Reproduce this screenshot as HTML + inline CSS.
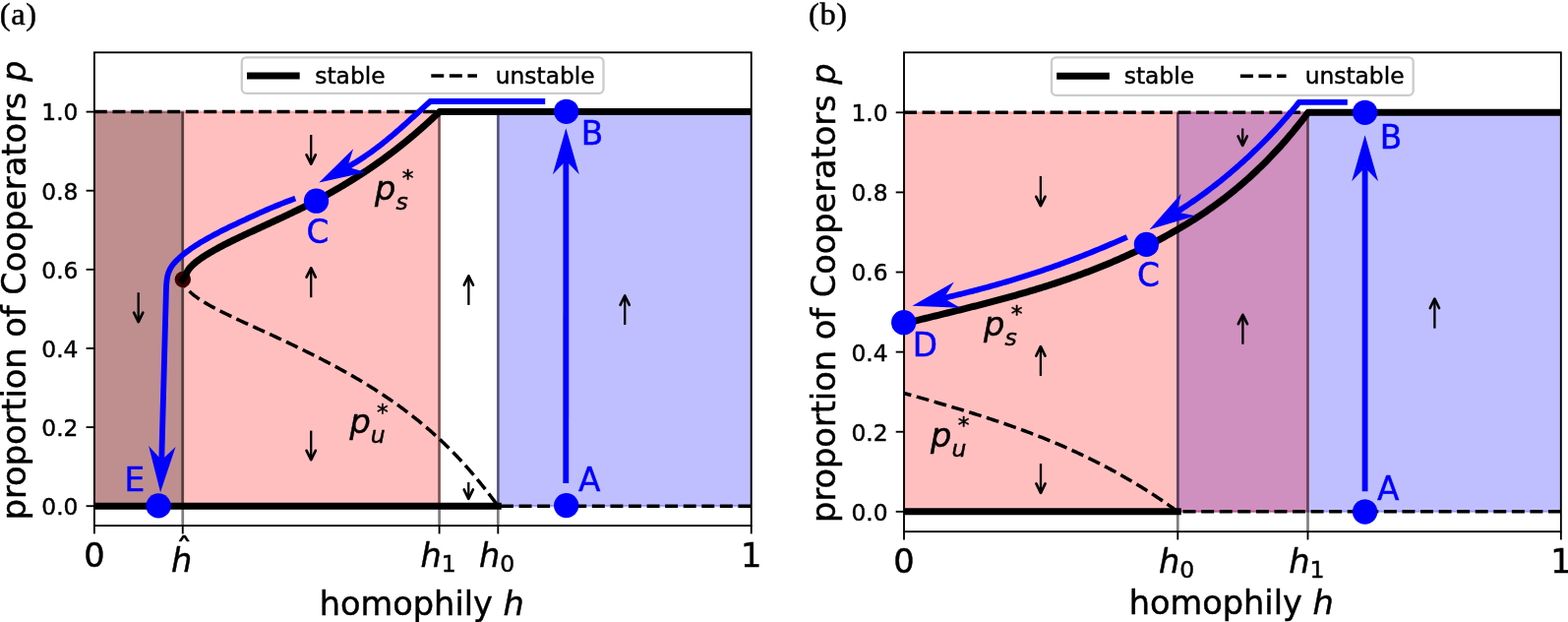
<!DOCTYPE html>
<html><head><meta charset="utf-8"><title>Figure</title>
<style>html,body{margin:0;padding:0;background:#fff;overflow:hidden}svg{display:block}</style>
</head><body>
<svg width="1594" height="632" viewBox="0 0 1594 632" role="img" aria-label="Bifurcation diagrams of cooperation versus homophily">
<rect width="1594" height="632" fill="#fff"/>
<clipPath id="clipa"><rect x="95.9" y="53.3" width="667.85" height="480.8"/></clipPath>
<g clip-path="url(#clipa)">
<rect x="95.9" y="113.6" width="350.7" height="400.6" fill="#f00" fill-opacity="0.25" stroke="#f00" stroke-opacity="0.25" stroke-width="2.33"/>
<rect x="506.3" y="113.6" width="257.45" height="400.6" fill="#00f" fill-opacity="0.25" stroke="#00f" stroke-opacity="0.25" stroke-width="2.33"/>
<rect x="95.9" y="113.6" width="89.85" height="400.6" fill="#000" fill-opacity="0.25" stroke="#000" stroke-opacity="0.25" stroke-width="2.33"/>
<line x1="185.75" y1="113.6" x2="185.75" y2="534.1" stroke="#000" stroke-opacity="0.5" stroke-width="2.7"/>
<line x1="446.6" y1="113.6" x2="446.6" y2="534.1" stroke="#000" stroke-opacity="0.5" stroke-width="2.7"/>
<line x1="506.3" y1="113.6" x2="506.3" y2="534.1" stroke="#000" stroke-opacity="0.5" stroke-width="2.7"/>
<path d="M95.9 113.6 L446.6 113.6" stroke="#000" stroke-width="3.5" stroke-dasharray="12.96 5.61" stroke-dashoffset="0" fill="none"/>
<path d="M185.76 284.1 L185.91 285.26 L186.17 286.41 L186.55 287.57 L187.04 288.73 L187.64 289.88 L188.35 291.04 L189.16 292.19 L190.08 293.35 L191.09 294.51 L192.2 295.66 L193.4 296.82 L194.69 297.98 L196.06 299.13 L197.52 300.29 L199.05 301.44 L200.66 302.6 L202.35 303.76 L204.1 304.91 L205.92 306.07 L207.81 307.23 L209.75 308.38 L211.76 309.54 L213.81 310.69 L215.92 311.85 L218.08 313.01 L220.28 314.16 L222.52 315.32 L224.8 316.48 L227.11 317.63 L229.46 318.79 L231.84 319.94 L234.25 321.1 L236.67 322.26 L239.12 323.41 L241.59 324.57 L244.07 325.73 L246.57 326.88 L249.08 328.04 L251.6 329.19 L254.12 330.35 L256.66 331.51 L259.2 332.66 L261.74 333.82 L264.28 334.98 L266.82 336.13 L269.35 337.29 L271.88 338.45 L274.4 339.6 L276.91 340.76 L279.41 341.91 L281.9 343.07 L284.37 344.23 L286.84 345.38 L289.3 346.54 L291.75 347.7 L294.18 348.85 L296.61 350.01 L299.02 351.16 L301.42 352.32 L303.8 353.48 L306.18 354.63 L308.54 355.79 L310.89 356.95 L313.23 358.1 L315.55 359.26 L317.86 360.41 L320.16 361.57 L322.44 362.73 L324.71 363.88 L326.97 365.04 L329.21 366.2 L331.43 367.35 L333.64 368.51 L335.84 369.66 L338.02 370.82 L340.18 371.98 L342.33 373.13 L344.46 374.29 L346.58 375.45 L348.68 376.6 L350.76 377.76 L352.83 378.92 L354.88 380.07 L356.91 381.23 L358.93 382.38 L360.93 383.54 L362.91 384.7 L364.87 385.85 L366.82 387.01 L368.75 388.17 L370.66 389.32 L372.56 390.48 L374.44 391.63 L376.3 392.79 L378.15 393.95 L379.98 395.1 L381.8 396.26 L383.6 397.42 L385.38 398.57 L387.15 399.73 L388.9 400.88 L390.64 402.04 L392.36 403.2 L394.07 404.35 L395.76 405.51 L397.44 406.67 L399.1 407.82 L400.75 408.98 L402.39 410.13 L404.01 411.29 L405.61 412.45 L407.2 413.6 L408.78 414.76 L410.34 415.92 L411.89 417.07 L413.43 418.23 L414.95 419.38 L416.46 420.54 L417.96 421.7 L419.45 422.85 L420.92 424.01 L422.37 425.17 L423.82 426.32 L425.25 427.48 L426.67 428.64 L428.08 429.79 L429.48 430.95 L430.86 432.1 L432.23 433.26 L433.6 434.42 L434.94 435.57 L436.28 436.73 L437.61 437.89 L438.92 439.04 L440.23 440.2 L441.52 441.35 L442.8 442.51 L444.07 443.67 L445.33 444.82 L446.58 445.98 L447.82 447.14 L449.05 448.29 L450.27 449.45 L451.48 450.6 L452.68 451.76 L453.87 452.92 L455.05 454.07 L456.22 455.23 L457.38 456.39 L458.53 457.54 L459.67 458.7 L460.81 459.85 L461.93 461.01 L463.05 462.17 L464.16 463.32 L465.26 464.48 L466.35 465.64 L467.43 466.79 L468.51 467.95 L469.57 469.11 L470.63 470.26 L471.68 471.42 L472.73 472.57 L473.76 473.73 L474.79 474.89 L475.81 476.04 L476.83 477.2 L477.84 478.36 L478.84 479.51 L479.83 480.67 L480.82 481.82 L481.8 482.98 L482.78 484.14 L483.74 485.29 L484.71 486.45 L485.66 487.61 L486.62 488.76 L487.56 489.92 L488.5 491.07 L489.43 492.23 L490.36 493.39 L491.29 494.54 L492.21 495.7 L493.12 496.86 L494.03 498.01 L494.94 499.17 L495.84 500.32 L496.73 501.48 L497.62 502.64 L498.51 503.79 L499.39 504.95 L500.27 506.11 L501.15 507.26 L502.02 508.42 L502.89 509.57 L503.75 510.73 L504.62 511.89 L505.47 513.04 L506.33 514.2 L763.75 514.2" stroke="#000" stroke-width="3.5" stroke-dasharray="12.96 5.61" stroke-dashoffset="4.67" fill="none" stroke-linejoin="miter"/>
<circle cx="185.8" cy="284.05" r="8.2" fill="#3c0000"/>
<path d="M95.9 514.2 L506.3 514.2" stroke="#000" stroke-width="7" stroke-linecap="square" fill="none"/>
<path d="M763.75 113.6 L446.81 113.6 L445.63 114.72 L444.44 115.83 L443.25 116.95 L442.06 118.07 L440.86 119.18 L439.65 120.3 L438.44 121.42 L437.22 122.53 L436 123.65 L434.77 124.77 L433.53 125.88 L432.28 127 L431.03 128.12 L429.78 129.23 L428.51 130.35 L427.24 131.47 L425.96 132.59 L424.67 133.7 L423.38 134.82 L422.07 135.94 L420.76 137.05 L419.44 138.17 L418.12 139.29 L416.78 140.4 L415.43 141.52 L414.08 142.64 L412.72 143.75 L411.34 144.87 L409.96 145.99 L408.57 147.1 L407.17 148.22 L405.76 149.34 L404.33 150.45 L402.9 151.57 L401.46 152.69 L400.01 153.8 L398.54 154.92 L397.07 156.04 L395.58 157.15 L394.08 158.27 L392.58 159.39 L391.06 160.5 L389.52 161.62 L387.98 162.74 L386.42 163.86 L384.85 164.97 L383.27 166.09 L381.68 167.21 L380.07 168.32 L378.45 169.44 L376.82 170.56 L375.18 171.67 L373.52 172.79 L371.84 173.91 L370.16 175.02 L368.46 176.14 L366.74 177.26 L365.01 178.37 L363.27 179.49 L361.51 180.61 L359.74 181.72 L357.95 182.84 L356.15 183.96 L354.33 185.07 L352.5 186.19 L350.65 187.31 L348.79 188.42 L346.91 189.54 L345.01 190.66 L343.1 191.77 L341.17 192.89 L339.22 194.01 L337.26 195.12 L335.28 196.24 L333.28 197.36 L331.27 198.48 L329.24 199.59 L327.19 200.71 L325.12 201.83 L323.04 202.94 L320.93 204.06 L318.81 205.18 L316.67 206.29 L314.51 207.41 L312.34 208.53 L310.14 209.64 L307.93 210.76 L305.69 211.88 L303.44 212.99 L301.17 214.11 L298.88 215.23 L296.56 216.34 L294.23 217.46 L291.88 218.58 L289.51 219.69 L287.13 220.81 L284.74 221.93 L282.33 223.04 L279.92 224.16 L277.5 225.28 L275.07 226.39 L272.64 227.51 L270.21 228.63 L267.77 229.74 L265.34 230.86 L262.91 231.98 L260.48 233.1 L258.06 234.21 L255.65 235.33 L253.25 236.45 L250.86 237.56 L248.48 238.68 L246.12 239.8 L243.78 240.91 L241.45 242.03 L239.15 243.15 L236.87 244.26 L234.61 245.38 L232.38 246.5 L230.17 247.61 L227.99 248.73 L225.85 249.85 L223.74 250.96 L221.66 252.08 L219.62 253.2 L217.61 254.31 L215.65 255.43 L213.73 256.55 L211.85 257.66 L210.02 258.78 L208.23 259.9 L206.51 261.01 L204.84 262.13 L203.24 263.25 L201.69 264.37 L200.22 265.48 L198.82 266.6 L197.49 267.72 L196.25 268.83 L195.08 269.95 L194.01 271.07 L193.02 272.18 L192.12 273.3 L191.32 274.42 L190.62 275.53 L190.02 276.65 L189.53 277.77 L189.15 278.88 L188.89 280 L185.8 284.1" stroke="#000" stroke-width="7" stroke-linecap="square" stroke-linejoin="round" fill="none"/>
<path d="M554.2 103 L437.4 103 L436.05 104.22 L434.7 105.45 L433.35 106.68 L432 107.9 L430.65 109.13 L429.31 110.36 L427.96 111.6 L426.61 112.83 L425.26 114.06 L423.91 115.29 L422.57 116.52 L421.22 117.75 L419.87 118.98 L418.51 120.21 L417.16 121.43 L415.81 122.66 L414.45 123.88 L413.09 125.1 L411.73 126.31 L410.37 127.53 L409 128.74 L407.63 129.95 L406.26 131.15 L404.88 132.35 L403.51 133.55 L402.12 134.74 L400.74 135.92 L399.35 137.1 L397.96 138.28 L396.56 139.45 L395.15 140.61 L393.75 141.77 L392.34 142.92 L390.92 144.07 L389.5 145.21 L388.07 146.34 L386.63 147.46 L385.19 148.58 L383.75 149.68 L382.3 150.78 L380.84 151.87 L379.37 152.96 L377.9 154.03 L376.42 155.09 L374.93 156.15 L373.44 157.19 L371.94 158.22 L370.43 159.25 L368.91 160.26 L367.39 161.26 L365.85 162.25 L364.31 163.23 L362.76 164.2 L361.2 165.16 L359.63 166.1 L358.05 167.03 L356.46 167.95 L354.86 168.85 L353.25 169.74" stroke="#0000ff" stroke-width="5.83" fill="none" stroke-linejoin="miter" stroke-linecap="butt"/>
<path d="M300.2 201.6 L298.08 202.39 L295.97 203.19 L293.88 203.98 L291.82 204.78 L289.77 205.57 L287.73 206.37 L285.72 207.16 L283.73 207.95 L281.76 208.75 L279.81 209.54 L277.88 210.34 L275.97 211.13 L274.08 211.93 L272.21 212.72 L270.37 213.51 L268.55 214.31 L266.76 215.1 L264.98 215.9 L263.22 216.69 L261.47 217.48 L259.74 218.28 L258.01 219.07 L256.3 219.87 L254.59 220.66 L252.88 221.46 L251.18 222.25 L249.48 223.04 L247.77 223.84 L246.06 224.63 L244.36 225.43 L242.66 226.22 L240.96 227.02 L239.27 227.81 L237.59 228.6 L235.91 229.4 L234.25 230.19 L232.6 230.99 L230.97 231.78 L229.35 232.58 L227.75 233.37 L226.17 234.16 L224.61 234.96 L223.07 235.75 L221.56 236.55 L220.06 237.34 L218.56 238.14 L217.08 238.93 L215.61 239.72 L214.16 240.52 L212.72 241.31 L211.29 242.11 L209.88 242.9 L208.49 243.69 L207.11 244.49 L205.76 245.28 L204.42 246.08 L203.1 246.87 L201.81 247.67 L200.54 248.46 L199.29 249.25 L198.06 250.05 L196.86 250.84 L195.67 251.64 L194.51 252.43 L193.38 253.23 L192.27 254.02 L191.18 254.81 L190.11 255.61 L189.08 256.4 L188.06 257.2 L187.06 257.99 L186.09 258.79 L185.14 259.58 L184.21 260.37 L183.31 261.17 L182.44 261.96 L181.58 262.76 L180.73 263.55 L179.9 264.35 L179.09 265.14 L178.31 265.93 L177.57 266.73 L176.89 267.52 L176.25 268.32 L175.65 269.11 L175.07 269.91 L174.52 270.7 L173.99 271.49 L173.51 272.29 L173.06 273.08 L172.66 273.88 L172.29 274.67 L171.94 275.46 L171.6 276.26 L171.29 277.05 L171.01 277.85 L170.76 278.64 L170.53 279.44 L170.35 280.23 L170.19 281.02 L170.04 281.82 L169.9 282.61 L169.78 283.41 L169.67 284.2 L169.56 285 L169.47 285.79 L169.39 286.58 L169.31 287.38 L169.23 288.17 L169.17 288.97 L169.11 289.76 L169.05 290.56 L169.01 291.35 L168.98 292.14 L168.95 292.94 L168.93 293.73 L168.9 294.53 L168.88 295.32 L168.86 296.12 L168.85 296.91 L168.83 297.7 L168.81 298.5 L168.79 299.29 L168.77 300.09 L168.75 300.88 L168.73 301.67 L168.71 302.47 L168.69 303.26 L168.67 304.06 L168.64 304.85 L168.62 305.65 L168.6 306.44 L168.58 307.23 L168.56 308.03 L168.54 308.82 L168.52 309.62 L168.5 310.41 L168.47 311.21 L168.45 312 L164.29 467.39" stroke="#0000ff" stroke-width="5.83" fill="none" stroke-linejoin="miter" stroke-linecap="butt"/>
<path d="M575.3 491 L575.35 163.2" stroke="#0000ff" stroke-width="5.83" fill="none" stroke-linejoin="miter" stroke-linecap="butt"/>
<path d="M324.27 185.52 L359.1 151.2 L353.25 169.74 L372 174.9Z" fill="#0000ff"/>
<path d="M163.09 500.37 L151.1 452.9 L164.29 467.39 L178.5 453.9Z" fill="#0000ff"/>
<path d="M575.35 130.2 L588.8 177.2 L575.35 163.2 L561.9 177.2Z" fill="#0000ff"/>
<path d="M316.2 137.1 L316.2 166.7" stroke="#000" stroke-width="2.3" fill="none" stroke-linecap="butt"/><path d="M311.6 157.3 L316.2 166.7 L320.8 157.3" stroke="#000" stroke-width="2.65" fill="none" stroke-linejoin="round" stroke-linecap="round"/>
<path d="M316.2 302.2 L316.2 272.3" stroke="#000" stroke-width="2.3" fill="none" stroke-linecap="butt"/><path d="M311.6 281.7 L316.2 272.3 L320.8 281.7" stroke="#000" stroke-width="2.65" fill="none" stroke-linejoin="round" stroke-linecap="round"/>
<path d="M316.2 437.6 L316.2 467.2" stroke="#000" stroke-width="2.3" fill="none" stroke-linecap="butt"/><path d="M311.6 457.8 L316.2 467.2 L320.8 457.8" stroke="#000" stroke-width="2.65" fill="none" stroke-linejoin="round" stroke-linecap="round"/>
<path d="M140.7 297.2 L140.7 327.1" stroke="#000" stroke-width="2.3" fill="none" stroke-linecap="butt"/><path d="M136.1 317.7 L140.7 327.1 L145.3 317.7" stroke="#000" stroke-width="2.65" fill="none" stroke-linejoin="round" stroke-linecap="round"/>
<path d="M476.4 309.9 L476.4 280.3" stroke="#000" stroke-width="2.3" fill="none" stroke-linecap="butt"/><path d="M471.8 289.7 L476.4 280.3 L481 289.7" stroke="#000" stroke-width="2.65" fill="none" stroke-linejoin="round" stroke-linecap="round"/>
<path d="M476.3 490 L476.3 506.8" stroke="#000" stroke-width="2.3" fill="none" stroke-linecap="butt"/><path d="M471.7 497.4 L476.3 506.8 L480.9 497.4" stroke="#000" stroke-width="2.65" fill="none" stroke-linejoin="round" stroke-linecap="round"/>
<path d="M635.2 330 L635.2 300.5" stroke="#000" stroke-width="2.3" fill="none" stroke-linecap="butt"/><path d="M630.6 309.9 L635.2 300.5 L639.8 309.9" stroke="#000" stroke-width="2.65" fill="none" stroke-linejoin="round" stroke-linecap="round"/>
</g>
<text x="381.1" y="202.9" font-family="'DejaVu Sans','Liberation Sans',sans-serif" font-size="33.6" text-anchor="start" fill="#000" stroke="#000" stroke-width="0.45" stroke-linejoin="round" font-style="italic">p</text><text x="402.54" y="212.7" font-family="'DejaVu Sans','Liberation Sans',sans-serif" font-size="23.52" text-anchor="start" fill="#000" stroke="#000" stroke-width="0.45" stroke-linejoin="round" font-style="italic">s</text><text x="408.74" y="189.1" font-family="'DejaVu Sans','Liberation Sans',sans-serif" font-size="23.52" text-anchor="start" fill="#000" stroke="#000" stroke-width="0.45" stroke-linejoin="round">*</text>
<text x="355.4" y="440.3" font-family="'DejaVu Sans','Liberation Sans',sans-serif" font-size="33.6" text-anchor="start" fill="#000" stroke="#000" stroke-width="0.45" stroke-linejoin="round" font-style="italic">p</text><text x="376.84" y="450.1" font-family="'DejaVu Sans','Liberation Sans',sans-serif" font-size="23.52" text-anchor="start" fill="#000" stroke="#000" stroke-width="0.45" stroke-linejoin="round" font-style="italic">u</text><text x="383.04" y="426.5" font-family="'DejaVu Sans','Liberation Sans',sans-serif" font-size="23.52" text-anchor="start" fill="#000" stroke="#000" stroke-width="0.45" stroke-linejoin="round">*</text>
<rect x="95.9" y="53.3" width="667.85" height="480.8" fill="none" stroke="#000" stroke-width="1.87" stroke-linejoin="miter"/>
<line x1="87.6" y1="514.2" x2="95.9" y2="514.2" stroke="#000" stroke-width="1.87"/>
<text x="79.43" y="523.07" font-family="'DejaVu Sans','Liberation Sans',sans-serif" font-size="23.33" text-anchor="end" fill="#000" stroke="#000" stroke-width="0.45" stroke-linejoin="round">0.0</text>
<line x1="87.6" y1="434.08" x2="95.9" y2="434.08" stroke="#000" stroke-width="1.87"/>
<text x="79.43" y="442.95" font-family="'DejaVu Sans','Liberation Sans',sans-serif" font-size="23.33" text-anchor="end" fill="#000" stroke="#000" stroke-width="0.45" stroke-linejoin="round">0.2</text>
<line x1="87.6" y1="353.96" x2="95.9" y2="353.96" stroke="#000" stroke-width="1.87"/>
<text x="79.43" y="362.83" font-family="'DejaVu Sans','Liberation Sans',sans-serif" font-size="23.33" text-anchor="end" fill="#000" stroke="#000" stroke-width="0.45" stroke-linejoin="round">0.4</text>
<line x1="87.6" y1="273.84" x2="95.9" y2="273.84" stroke="#000" stroke-width="1.87"/>
<text x="79.43" y="282.71" font-family="'DejaVu Sans','Liberation Sans',sans-serif" font-size="23.33" text-anchor="end" fill="#000" stroke="#000" stroke-width="0.45" stroke-linejoin="round">0.6</text>
<line x1="87.6" y1="193.72" x2="95.9" y2="193.72" stroke="#000" stroke-width="1.87"/>
<text x="79.43" y="202.59" font-family="'DejaVu Sans','Liberation Sans',sans-serif" font-size="23.33" text-anchor="end" fill="#000" stroke="#000" stroke-width="0.45" stroke-linejoin="round">0.8</text>
<line x1="87.6" y1="113.6" x2="95.9" y2="113.6" stroke="#000" stroke-width="1.87"/>
<text x="79.43" y="122.47" font-family="'DejaVu Sans','Liberation Sans',sans-serif" font-size="23.33" text-anchor="end" fill="#000" stroke="#000" stroke-width="0.45" stroke-linejoin="round">1.0</text>
<line x1="95.9" y1="534.1" x2="95.9" y2="542.4" stroke="#000" stroke-width="1.87"/>
<line x1="185.75" y1="534.1" x2="185.75" y2="542.4" stroke="#000" stroke-width="1.87"/>
<line x1="446.6" y1="534.1" x2="446.6" y2="542.4" stroke="#000" stroke-width="1.87"/>
<line x1="506.3" y1="534.1" x2="506.3" y2="542.4" stroke="#000" stroke-width="1.87"/>
<line x1="763.75" y1="534.1" x2="763.75" y2="542.4" stroke="#000" stroke-width="1.87"/>
<text x="95.9" y="576" font-family="'DejaVu Sans','Liberation Sans',sans-serif" font-size="33.6" text-anchor="middle" fill="#000" stroke="#000" stroke-width="0.45" stroke-linejoin="round">0</text>
<text x="174" y="581.3" font-family="'DejaVu Sans','Liberation Sans',sans-serif" font-size="33.6" text-anchor="start" fill="#000" stroke="#000" stroke-width="0.45" stroke-linejoin="round" font-style="italic">h</text><text x="187.1" y="570.7" font-family="'DejaVu Sans','Liberation Sans',sans-serif" font-size="33.6" text-anchor="middle" fill="#000" stroke="#000" stroke-width="0.45" stroke-linejoin="round">ˆ</text>
<text x="427.5" y="576.3" font-family="'DejaVu Sans','Liberation Sans',sans-serif" font-size="33.6" text-anchor="start" fill="#000" stroke="#000" stroke-width="0.45" stroke-linejoin="round" font-style="italic">h</text><text x="448.8" y="581.2" font-family="'DejaVu Sans','Liberation Sans',sans-serif" font-size="23.52" text-anchor="start" fill="#000" stroke="#000" stroke-width="0.45" stroke-linejoin="round">1</text>
<text x="487" y="576.3" font-family="'DejaVu Sans','Liberation Sans',sans-serif" font-size="33.6" text-anchor="start" fill="#000" stroke="#000" stroke-width="0.45" stroke-linejoin="round" font-style="italic">h</text><text x="508.3" y="581.2" font-family="'DejaVu Sans','Liberation Sans',sans-serif" font-size="23.52" text-anchor="start" fill="#000" stroke="#000" stroke-width="0.45" stroke-linejoin="round">0</text>
<text x="763.75" y="576" font-family="'DejaVu Sans','Liberation Sans',sans-serif" font-size="33.6" text-anchor="middle" fill="#000" stroke="#000" stroke-width="0.45" stroke-linejoin="round">1</text>
<text x="428.82" y="624.8" font-family="'DejaVu Sans','Liberation Sans',sans-serif" font-size="33.6" text-anchor="middle" stroke="#000" stroke-width="0.45" stroke-linejoin="round">homophily <tspan font-style="italic">h</tspan></text>
<text transform="translate(25.6 295) rotate(-90)" font-family="'DejaVu Sans','Liberation Sans',sans-serif" font-size="33.6" text-anchor="middle" stroke="#000" stroke-width="0.45" stroke-linejoin="round">proportion of Cooperators <tspan font-style="italic">p</tspan></text>
<circle cx="575.7" cy="513.6" r="12.65" fill="#0000ff"/>
<circle cx="575.7" cy="113.3" r="12.65" fill="#0000ff"/>
<circle cx="321.5" cy="204.2" r="12.65" fill="#0000ff"/>
<circle cx="161.1" cy="513.9" r="12.65" fill="#0000ff"/>
<text x="588" y="498.6" font-family="'DejaVu Sans','Liberation Sans',sans-serif" font-size="32.8" text-anchor="start" fill="#0000ff" stroke="#0000ff" stroke-width="0.45" stroke-linejoin="round">A</text>
<text x="590.8" y="146.6" font-family="'DejaVu Sans','Liberation Sans',sans-serif" font-size="32.8" text-anchor="start" fill="#0000ff" stroke="#0000ff" stroke-width="0.45" stroke-linejoin="round">B</text>
<text x="311.5" y="247" font-family="'DejaVu Sans','Liberation Sans',sans-serif" font-size="32.8" text-anchor="start" fill="#0000ff" stroke="#0000ff" stroke-width="0.45" stroke-linejoin="round">C</text>
<text x="126.5" y="499" font-family="'DejaVu Sans','Liberation Sans',sans-serif" font-size="32.8" text-anchor="start" fill="#0000ff" stroke="#0000ff" stroke-width="0.45" stroke-linejoin="round">E</text>
<rect x="245.8" y="58.3" width="367.7" height="36.5" rx="4.6" ry="4.6" fill="#fff" fill-opacity="0.8" stroke="#ccc" stroke-opacity="1" stroke-width="2.33"/>
<line x1="254.5" y1="77.1" x2="301.17" y2="77.1" stroke="#000" stroke-width="7" stroke-linecap="square"/>
<text x="320.3" y="85.3" font-family="'DejaVu Sans','Liberation Sans',sans-serif" font-size="23.33" text-anchor="start" fill="#000" stroke="#000" stroke-width="0.45" stroke-linejoin="round">stable</text>
<line x1="438.3" y1="77.1" x2="484.97" y2="77.1" stroke="#000" stroke-width="3.5" stroke-dasharray="12.96 5.61"/>
<text x="503.8" y="85.3" font-family="'DejaVu Sans','Liberation Sans',sans-serif" font-size="23.33" text-anchor="start" fill="#000" stroke="#000" stroke-width="0.45" stroke-linejoin="round">unstable</text>
<text x="-0.3" y="24.9" font-family="'Liberation Serif','DejaVu Serif',serif" font-size="32.5" text-anchor="start" fill="#000" stroke="#000" stroke-width="0.45" stroke-linejoin="round" letter-spacing="0.6">(a)</text>
<clipPath id="clipb"><rect x="919" y="53.3" width="667.85" height="486.85"/></clipPath>
<g clip-path="url(#clipb)">
<rect x="1197.3" y="114.3" width="389.55" height="405.55" fill="#00f" fill-opacity="0.25" stroke="#00f" stroke-opacity="0.25" stroke-width="2.33"/>
<rect x="919" y="114.3" width="410.5" height="405.55" fill="#f00" fill-opacity="0.25" stroke="#f00" stroke-opacity="0.25" stroke-width="2.33"/>
<line x1="1197.3" y1="114.3" x2="1197.3" y2="540.15" stroke="#000" stroke-opacity="0.5" stroke-width="2.7"/>
<line x1="1329.5" y1="114.3" x2="1329.5" y2="540.15" stroke="#000" stroke-opacity="0.5" stroke-width="2.7"/>
<path d="M919 114.3 L1329.5 114.3" stroke="#000" stroke-width="3.5" stroke-dasharray="12.96 5.61" stroke-dashoffset="0" fill="none"/>
<path d="M919 399.47 L920.75 399.97 L922.5 400.46 L924.25 400.96 L926 401.45 L927.75 401.95 L929.5 402.44 L931.25 402.94 L933 403.43 L934.75 403.93 L936.5 404.43 L938.25 404.93 L940 405.43 L941.75 405.93 L943.5 406.43 L945.25 406.93 L947.01 407.43 L948.76 407.94 L950.51 408.44 L952.26 408.95 L954.01 409.46 L955.76 409.97 L957.51 410.48 L959.26 410.99 L961.01 411.5 L962.76 412.01 L964.51 412.53 L966.26 413.05 L968.01 413.57 L969.76 414.09 L971.51 414.61 L973.26 415.14 L975.01 415.67 L976.76 416.2 L978.51 416.73 L980.26 417.26 L982.01 417.8 L983.76 418.33 L985.51 418.87 L987.26 419.42 L989.01 419.96 L990.76 420.51 L992.51 421.06 L994.26 421.61 L996.01 422.17 L997.76 422.73 L999.51 423.29 L1001.26 423.85 L1003.02 424.42 L1004.77 424.99 L1006.52 425.56 L1008.27 426.14 L1010.02 426.72 L1011.77 427.3 L1013.52 427.88 L1015.27 428.47 L1017.02 429.07 L1018.77 429.66 L1020.52 430.26 L1022.27 430.87 L1024.02 431.47 L1025.77 432.08 L1027.52 432.7 L1029.27 433.32 L1031.02 433.94 L1032.77 434.56 L1034.52 435.2 L1036.27 435.83 L1038.02 436.47 L1039.77 437.11 L1041.52 437.76 L1043.27 438.41 L1045.02 439.06 L1046.77 439.73 L1048.52 440.39 L1050.27 441.06 L1052.02 441.73 L1053.77 442.41 L1055.52 443.09 L1057.27 443.78 L1059.03 444.48 L1060.78 445.17 L1062.53 445.88 L1064.28 446.59 L1066.03 447.3 L1067.78 448.02 L1069.53 448.74 L1071.28 449.47 L1073.03 450.2 L1074.78 450.94 L1076.53 451.69 L1078.28 452.44 L1080.03 453.2 L1081.78 453.96 L1083.53 454.73 L1085.28 455.5 L1087.03 456.28 L1088.78 457.06 L1090.53 457.86 L1092.28 458.65 L1094.03 459.46 L1095.78 460.27 L1097.53 461.08 L1099.28 461.9 L1101.03 462.73 L1102.78 463.57 L1104.53 464.41 L1106.28 465.26 L1108.03 466.11 L1109.78 466.97 L1111.53 467.84 L1113.28 468.71 L1115.04 469.6 L1116.79 470.48 L1118.54 471.38 L1120.29 472.28 L1122.04 473.19 L1123.79 474.11 L1125.54 475.03 L1127.29 475.96 L1129.04 476.9 L1130.79 477.84 L1132.54 478.8 L1134.29 479.76 L1136.04 480.73 L1137.79 481.7 L1139.54 482.68 L1141.29 483.68 L1143.04 484.67 L1144.79 485.68 L1146.54 486.7 L1148.29 487.72 L1150.04 488.75 L1151.79 489.79 L1153.54 490.83 L1155.29 491.89 L1157.04 492.95 L1158.79 494.02 L1160.54 495.1 L1162.29 496.19 L1164.04 497.29 L1165.79 498.39 L1167.54 499.51 L1169.29 500.63 L1171.05 501.76 L1172.8 502.9 L1174.55 504.05 L1176.3 505.21 L1178.05 506.38 L1179.8 507.56 L1181.55 508.74 L1183.3 509.94 L1185.05 511.14 L1186.8 512.35 L1188.55 513.58 L1190.3 514.81 L1192.05 516.05 L1193.8 517.3 L1195.55 518.56 L1197.3 519.85 L1586.85 519.85" stroke="#000" stroke-width="3.5" stroke-dasharray="12.96 5.61" stroke-dashoffset="5.32" fill="none" stroke-linejoin="miter"/>
<path d="M919 519.85 L1197.3 519.85" stroke="#000" stroke-width="7" stroke-linecap="square" fill="none"/>
<path d="M1586.85 114.3 L1329.8 114.3 L1327.92 116.81 L1326.05 119.26 L1324.17 121.68 L1322.3 124.07 L1320.42 126.44 L1318.55 128.77 L1316.67 131.08 L1314.79 133.36 L1312.92 135.62 L1311.04 137.84 L1309.17 140.05 L1307.29 142.22 L1305.41 144.37 L1303.54 146.49 L1301.66 148.59 L1299.79 150.66 L1297.91 152.7 L1296.04 154.72 L1294.16 156.72 L1292.28 158.69 L1290.41 160.64 L1288.53 162.57 L1286.66 164.47 L1284.78 166.35 L1282.91 168.2 L1281.03 170.03 L1279.15 171.84 L1277.28 173.63 L1275.4 175.4 L1273.53 177.14 L1271.65 178.87 L1269.77 180.57 L1267.9 182.25 L1266.02 183.91 L1264.15 185.55 L1262.27 187.17 L1260.4 188.77 L1258.52 190.35 L1256.64 191.92 L1254.77 193.46 L1252.89 194.99 L1251.02 196.49 L1249.14 197.98 L1247.26 199.45 L1245.39 200.91 L1243.51 202.34 L1241.64 203.76 L1239.76 205.16 L1237.89 206.55 L1236.01 207.92 L1234.13 209.27 L1232.26 210.61 L1230.38 211.94 L1228.51 213.24 L1226.63 214.54 L1224.76 215.82 L1222.88 217.08 L1221 218.33 L1219.13 219.57 L1217.25 220.79 L1215.38 222 L1213.5 223.2 L1211.62 224.38 L1209.75 225.55 L1207.87 226.71 L1206 227.86 L1204.12 229 L1202.25 230.12 L1200.37 231.23 L1198.49 232.34 L1196.62 233.43 L1194.74 234.51 L1192.87 235.59 L1190.99 236.65 L1189.12 237.7 L1187.24 238.75 L1185.36 239.78 L1183.49 240.81 L1181.61 241.82 L1179.74 242.83 L1177.86 243.83 L1175.98 244.82 L1174.11 245.8 L1172.23 246.77 L1170.36 247.74 L1168.48 248.69 L1166.61 249.64 L1164.73 250.58 L1162.85 251.51 L1160.98 252.43 L1159.1 253.34 L1157.23 254.25 L1155.35 255.15 L1153.47 256.04 L1151.6 256.92 L1149.72 257.79 L1147.85 258.66 L1145.97 259.52 L1144.1 260.37 L1142.22 261.21 L1140.34 262.05 L1138.47 262.88 L1136.59 263.7 L1134.72 264.51 L1132.84 265.32 L1130.97 266.12 L1129.09 266.91 L1127.21 267.7 L1125.34 268.48 L1123.46 269.25 L1121.59 270.02 L1119.71 270.78 L1117.83 271.53 L1115.96 272.27 L1114.08 273.01 L1112.21 273.75 L1110.33 274.47 L1108.46 275.19 L1106.58 275.91 L1104.7 276.62 L1102.83 277.32 L1100.95 278.02 L1099.08 278.71 L1097.2 279.39 L1095.33 280.07 L1093.45 280.75 L1091.57 281.41 L1089.7 282.08 L1087.82 282.73 L1085.95 283.39 L1084.07 284.03 L1082.19 284.67 L1080.32 285.31 L1078.44 285.94 L1076.57 286.57 L1074.69 287.19 L1072.82 287.81 L1070.94 288.42 L1069.06 289.02 L1067.19 289.63 L1065.31 290.22 L1063.44 290.82 L1061.56 291.41 L1059.68 291.99 L1057.81 292.57 L1055.93 293.15 L1054.06 293.72 L1052.18 294.29 L1050.31 294.85 L1048.43 295.41 L1046.55 295.97 L1044.68 296.52 L1042.8 297.07 L1040.93 297.62 L1039.05 298.16 L1037.18 298.7 L1035.3 299.23 L1033.42 299.76 L1031.55 300.29 L1029.67 300.82 L1027.8 301.34 L1025.92 301.86 L1024.04 302.38 L1022.17 302.89 L1020.29 303.4 L1018.42 303.91 L1016.54 304.41 L1014.67 304.92 L1012.79 305.42 L1010.91 305.91 L1009.04 306.41 L1007.16 306.9 L1005.29 307.39 L1003.41 307.88 L1001.54 308.37 L999.66 308.85 L997.78 309.33 L995.91 309.82 L994.03 310.29 L992.16 310.77 L990.28 311.25 L988.4 311.72 L986.53 312.19 L984.65 312.67 L982.78 313.13 L980.9 313.6 L979.03 314.07 L977.15 314.54 L975.27 315 L973.4 315.47 L971.52 315.93 L969.65 316.39 L967.77 316.85 L965.89 317.31 L964.02 317.77 L962.14 318.23 L960.27 318.69 L958.39 319.15 L956.52 319.61 L954.64 320.07 L952.76 320.53 L950.89 320.98 L949.01 321.44 L947.14 321.9 L945.26 322.36 L943.39 322.82 L941.51 323.27 L939.63 323.73 L937.76 324.19 L935.88 324.65 L934.01 325.11 L932.13 325.57 L930.25 326.03 L928.38 326.5 L926.5 326.96 L924.63 327.42 L922.75 327.89 L920.88 328.35 L919 328.82" stroke="#000" stroke-width="7" stroke-linecap="square" stroke-linejoin="round" fill="none"/>
<path d="M1369.8 103.8 L1320.7 103.8 L1319.35 105.45 L1318 107.1 L1316.65 108.74 L1315.29 110.38 L1313.92 112.01 L1312.54 113.64 L1311.16 115.26 L1309.78 116.87 L1308.39 118.48 L1306.99 120.09 L1305.58 121.69 L1304.17 123.28 L1302.76 124.87 L1301.34 126.45 L1299.91 128.03 L1298.47 129.6 L1297.03 131.17 L1295.59 132.73 L1294.13 134.28 L1292.68 135.83 L1291.21 137.37 L1289.74 138.91 L1288.27 140.44 L1286.78 141.96 L1285.3 143.48 L1283.8 144.99 L1282.3 146.5 L1280.8 148 L1279.29 149.49 L1277.77 150.98 L1276.24 152.46 L1274.71 153.94 L1273.18 155.41 L1271.64 156.87 L1270.09 158.33 L1268.54 159.78 L1266.98 161.22 L1265.41 162.66 L1263.84 164.09 L1262.26 165.51 L1260.68 166.93 L1259.09 168.34 L1257.5 169.74 L1255.9 171.14 L1254.29 172.53 L1252.68 173.91 L1251.06 175.29 L1249.44 176.66 L1247.81 178.02 L1246.17 179.38 L1244.53 180.73 L1242.88 182.07 L1241.23 183.41 L1239.57 184.73 L1237.9 186.05 L1236.23 187.37 L1234.56 188.67 L1232.87 189.97 L1231.18 191.26 L1229.49 192.55 L1227.79 193.83 L1226.08 195.1 L1224.37 196.36 L1222.65 197.61 L1220.93 198.86 L1219.2 200.1 L1217.47 201.33 L1215.73 202.56 L1213.98 203.77 L1212.23 204.98 L1210.47 206.18 L1208.7 207.38 L1206.93 208.56 L1205.16 209.74 L1203.38 210.91 L1201.59 212.07 L1199.8 213.23 L1198 214.38 L1196.19 215.51" stroke="#0000ff" stroke-width="5.83" fill="none" stroke-linejoin="miter" stroke-linecap="butt"/>
<path d="M1145.8 240.8 L1143.53 241.81 L1141.25 242.82 L1138.97 243.83 L1136.69 244.83 L1134.41 245.83 L1132.12 246.82 L1129.83 247.8 L1127.54 248.78 L1125.25 249.76 L1122.95 250.73 L1120.66 251.69 L1118.35 252.65 L1116.05 253.6 L1113.75 254.55 L1111.44 255.49 L1109.13 256.43 L1106.82 257.36 L1104.5 258.28 L1102.18 259.2 L1099.86 260.11 L1097.54 261.02 L1095.22 261.92 L1092.89 262.81 L1090.56 263.7 L1088.23 264.58 L1085.9 265.46 L1083.57 266.33 L1081.23 267.19 L1078.89 268.04 L1076.55 268.89 L1074.2 269.73 L1071.86 270.57 L1069.51 271.39 L1067.16 272.21 L1064.81 273.03 L1062.45 273.84 L1060.1 274.64 L1057.74 275.43 L1055.38 276.22 L1053.01 277 L1050.65 277.77 L1048.28 278.54 L1045.91 279.3 L1043.54 280.06 L1041.17 280.81 L1038.8 281.55 L1036.42 282.29 L1034.04 283.02 L1031.66 283.75 L1029.28 284.47 L1026.9 285.18 L1024.51 285.89 L1022.12 286.59 L1019.73 287.28 L1017.34 287.97 L1014.95 288.66 L1012.55 289.33 L1010.16 290.01 L1007.76 290.67 L1005.36 291.34 L1002.96 291.99 L1000.55 292.64 L998.15 293.29 L995.74 293.93 L993.33 294.56 L990.92 295.19 L988.51 295.81 L986.1 296.43 L983.68 297.05 L981.26 297.66 L978.85 298.26 L976.43 298.86 L974 299.45 L971.58 300.04 L969.16 300.62 L966.73 301.2 L964.3 301.78 L961.87 302.35 L959.44 302.91" stroke="#0000ff" stroke-width="5.83" fill="none" stroke-linejoin="miter" stroke-linecap="butt"/>
<path d="M1387.6 499.2 L1387.6 170.2" stroke="#0000ff" stroke-width="5.83" fill="none" stroke-linejoin="miter" stroke-linecap="butt"/>
<path d="M1168.43 233.35 L1200.75 196.7 L1196.2 215.52 L1215.2 219.2Z" fill="#0000ff"/>
<path d="M927.37 310.67 L969.9 286.6 L959.44 302.92 L976.2 312.65Z" fill="#0000ff"/>
<path d="M1387.6 137.2 L1401.05 184.2 L1387.6 170.2 L1374.15 184.2Z" fill="#0000ff"/>
<path d="M1263.2 130.6 L1263.2 147.9" stroke="#000" stroke-width="2.3" fill="none" stroke-linecap="butt"/><path d="M1258.6 138.5 L1263.2 147.9 L1267.8 138.5" stroke="#000" stroke-width="2.65" fill="none" stroke-linejoin="round" stroke-linecap="round"/>
<path d="M1057.9 178.9 L1057.9 209.2" stroke="#000" stroke-width="2.3" fill="none" stroke-linecap="butt"/><path d="M1053.3 199.8 L1057.9 209.2 L1062.5 199.8" stroke="#000" stroke-width="2.65" fill="none" stroke-linejoin="round" stroke-linecap="round"/>
<path d="M1057.9 381.9 L1057.9 352.2" stroke="#000" stroke-width="2.3" fill="none" stroke-linecap="butt"/><path d="M1053.3 361.6 L1057.9 352.2 L1062.5 361.6" stroke="#000" stroke-width="2.65" fill="none" stroke-linejoin="round" stroke-linecap="round"/>
<path d="M1058 471.1 L1058 500.8" stroke="#000" stroke-width="2.3" fill="none" stroke-linecap="butt"/><path d="M1053.4 491.4 L1058 500.8 L1062.6 491.4" stroke="#000" stroke-width="2.65" fill="none" stroke-linejoin="round" stroke-linecap="round"/>
<path d="M1263.4 349.7 L1263.4 319.8" stroke="#000" stroke-width="2.3" fill="none" stroke-linecap="butt"/><path d="M1258.8 329.2 L1263.4 319.8 L1268 329.2" stroke="#000" stroke-width="2.65" fill="none" stroke-linejoin="round" stroke-linecap="round"/>
<path d="M1458.4 333.6 L1458.4 303.6" stroke="#000" stroke-width="2.3" fill="none" stroke-linecap="butt"/><path d="M1453.8 313 L1458.4 303.6 L1463 313" stroke="#000" stroke-width="2.65" fill="none" stroke-linejoin="round" stroke-linecap="round"/>
</g>
<text x="1000" y="341" font-family="'DejaVu Sans','Liberation Sans',sans-serif" font-size="33.6" text-anchor="start" fill="#000" stroke="#000" stroke-width="0.45" stroke-linejoin="round" font-style="italic">p</text><text x="1021.44" y="350.8" font-family="'DejaVu Sans','Liberation Sans',sans-serif" font-size="23.52" text-anchor="start" fill="#000" stroke="#000" stroke-width="0.45" stroke-linejoin="round" font-style="italic">s</text><text x="1027.64" y="327.2" font-family="'DejaVu Sans','Liberation Sans',sans-serif" font-size="23.52" text-anchor="start" fill="#000" stroke="#000" stroke-width="0.45" stroke-linejoin="round">*</text>
<text x="946.1" y="454" font-family="'DejaVu Sans','Liberation Sans',sans-serif" font-size="33.6" text-anchor="start" fill="#000" stroke="#000" stroke-width="0.45" stroke-linejoin="round" font-style="italic">p</text><text x="967.54" y="463.8" font-family="'DejaVu Sans','Liberation Sans',sans-serif" font-size="23.52" text-anchor="start" fill="#000" stroke="#000" stroke-width="0.45" stroke-linejoin="round" font-style="italic">u</text><text x="973.74" y="440.2" font-family="'DejaVu Sans','Liberation Sans',sans-serif" font-size="23.52" text-anchor="start" fill="#000" stroke="#000" stroke-width="0.45" stroke-linejoin="round">*</text>
<rect x="919" y="53.3" width="667.85" height="486.85" fill="none" stroke="#000" stroke-width="1.87" stroke-linejoin="miter"/>
<line x1="910.7" y1="519.85" x2="919" y2="519.85" stroke="#000" stroke-width="1.87"/>
<text x="902.53" y="528.72" font-family="'DejaVu Sans','Liberation Sans',sans-serif" font-size="23.33" text-anchor="end" fill="#000" stroke="#000" stroke-width="0.45" stroke-linejoin="round">0.0</text>
<line x1="910.7" y1="438.74" x2="919" y2="438.74" stroke="#000" stroke-width="1.87"/>
<text x="902.53" y="447.61" font-family="'DejaVu Sans','Liberation Sans',sans-serif" font-size="23.33" text-anchor="end" fill="#000" stroke="#000" stroke-width="0.45" stroke-linejoin="round">0.2</text>
<line x1="910.7" y1="357.63" x2="919" y2="357.63" stroke="#000" stroke-width="1.87"/>
<text x="902.53" y="366.5" font-family="'DejaVu Sans','Liberation Sans',sans-serif" font-size="23.33" text-anchor="end" fill="#000" stroke="#000" stroke-width="0.45" stroke-linejoin="round">0.4</text>
<line x1="910.7" y1="276.52" x2="919" y2="276.52" stroke="#000" stroke-width="1.87"/>
<text x="902.53" y="285.39" font-family="'DejaVu Sans','Liberation Sans',sans-serif" font-size="23.33" text-anchor="end" fill="#000" stroke="#000" stroke-width="0.45" stroke-linejoin="round">0.6</text>
<line x1="910.7" y1="195.41" x2="919" y2="195.41" stroke="#000" stroke-width="1.87"/>
<text x="902.53" y="204.28" font-family="'DejaVu Sans','Liberation Sans',sans-serif" font-size="23.33" text-anchor="end" fill="#000" stroke="#000" stroke-width="0.45" stroke-linejoin="round">0.8</text>
<line x1="910.7" y1="114.3" x2="919" y2="114.3" stroke="#000" stroke-width="1.87"/>
<text x="902.53" y="123.17" font-family="'DejaVu Sans','Liberation Sans',sans-serif" font-size="23.33" text-anchor="end" fill="#000" stroke="#000" stroke-width="0.45" stroke-linejoin="round">1.0</text>
<line x1="919" y1="540.15" x2="919" y2="548.45" stroke="#000" stroke-width="1.87"/>
<line x1="1197.3" y1="540.15" x2="1197.3" y2="548.45" stroke="#000" stroke-width="1.87"/>
<line x1="1329.5" y1="540.15" x2="1329.5" y2="548.45" stroke="#000" stroke-width="1.87"/>
<line x1="1586.85" y1="540.15" x2="1586.85" y2="548.45" stroke="#000" stroke-width="1.87"/>
<text x="919" y="581.8" font-family="'DejaVu Sans','Liberation Sans',sans-serif" font-size="33.6" text-anchor="middle" fill="#000" stroke="#000" stroke-width="0.45" stroke-linejoin="round">0</text>
<text x="1178" y="582.1" font-family="'DejaVu Sans','Liberation Sans',sans-serif" font-size="33.6" text-anchor="start" fill="#000" stroke="#000" stroke-width="0.45" stroke-linejoin="round" font-style="italic">h</text><text x="1199.3" y="587" font-family="'DejaVu Sans','Liberation Sans',sans-serif" font-size="23.52" text-anchor="start" fill="#000" stroke="#000" stroke-width="0.45" stroke-linejoin="round">0</text>
<text x="1310.3" y="582.1" font-family="'DejaVu Sans','Liberation Sans',sans-serif" font-size="33.6" text-anchor="start" fill="#000" stroke="#000" stroke-width="0.45" stroke-linejoin="round" font-style="italic">h</text><text x="1331.6" y="587" font-family="'DejaVu Sans','Liberation Sans',sans-serif" font-size="23.52" text-anchor="start" fill="#000" stroke="#000" stroke-width="0.45" stroke-linejoin="round">1</text>
<text x="1586.85" y="581.8" font-family="'DejaVu Sans','Liberation Sans',sans-serif" font-size="33.6" text-anchor="middle" fill="#000" stroke="#000" stroke-width="0.45" stroke-linejoin="round">1</text>
<text x="1251.72" y="624" font-family="'DejaVu Sans','Liberation Sans',sans-serif" font-size="33.6" text-anchor="middle" stroke="#000" stroke-width="0.45" stroke-linejoin="round">homophily <tspan font-style="italic">h</tspan></text>
<text transform="translate(848.5 297.62) rotate(-90)" font-family="'DejaVu Sans','Liberation Sans',sans-serif" font-size="33.6" text-anchor="middle" stroke="#000" stroke-width="0.45" stroke-linejoin="round">proportion of Cooperators <tspan font-style="italic">p</tspan></text>
<circle cx="1387.6" cy="520" r="12.65" fill="#0000ff"/>
<circle cx="1387.6" cy="114.3" r="12.65" fill="#0000ff"/>
<circle cx="1165.4" cy="248.4" r="12.65" fill="#0000ff"/>
<circle cx="918.7" cy="327.7" r="12.65" fill="#0000ff"/>
<text x="1400" y="508.2" font-family="'DejaVu Sans','Liberation Sans',sans-serif" font-size="32.8" text-anchor="start" fill="#0000ff" stroke="#0000ff" stroke-width="0.45" stroke-linejoin="round">A</text>
<text x="1402.8" y="151.3" font-family="'DejaVu Sans','Liberation Sans',sans-serif" font-size="32.8" text-anchor="start" fill="#0000ff" stroke="#0000ff" stroke-width="0.45" stroke-linejoin="round">B</text>
<text x="1155.9" y="291.3" font-family="'DejaVu Sans','Liberation Sans',sans-serif" font-size="32.8" text-anchor="start" fill="#0000ff" stroke="#0000ff" stroke-width="0.45" stroke-linejoin="round">C</text>
<text x="927.8" y="361.7" font-family="'DejaVu Sans','Liberation Sans',sans-serif" font-size="32.8" text-anchor="start" fill="#0000ff" stroke="#0000ff" stroke-width="0.45" stroke-linejoin="round">D</text>
<rect x="1069" y="58.3" width="367.7" height="38.5" rx="4.6" ry="4.6" fill="#fff" fill-opacity="0.8" stroke="#ccc" stroke-opacity="1" stroke-width="2.33"/>
<line x1="1077.7" y1="77.2" x2="1124.37" y2="77.2" stroke="#000" stroke-width="7" stroke-linecap="square"/>
<text x="1142.8" y="85.1" font-family="'DejaVu Sans','Liberation Sans',sans-serif" font-size="23.33" text-anchor="start" fill="#000" stroke="#000" stroke-width="0.45" stroke-linejoin="round">stable</text>
<line x1="1260.9" y1="77.2" x2="1307.57" y2="77.2" stroke="#000" stroke-width="3.5" stroke-dasharray="12.96 5.61"/>
<text x="1326.7" y="85.1" font-family="'DejaVu Sans','Liberation Sans',sans-serif" font-size="23.33" text-anchor="start" fill="#000" stroke="#000" stroke-width="0.45" stroke-linejoin="round">unstable</text>
<text x="822" y="24.9" font-family="'Liberation Serif','DejaVu Serif',serif" font-size="32.5" text-anchor="start" fill="#000" stroke="#000" stroke-width="0.45" stroke-linejoin="round" letter-spacing="0.6">(b)</text>
</svg>
</body></html>
